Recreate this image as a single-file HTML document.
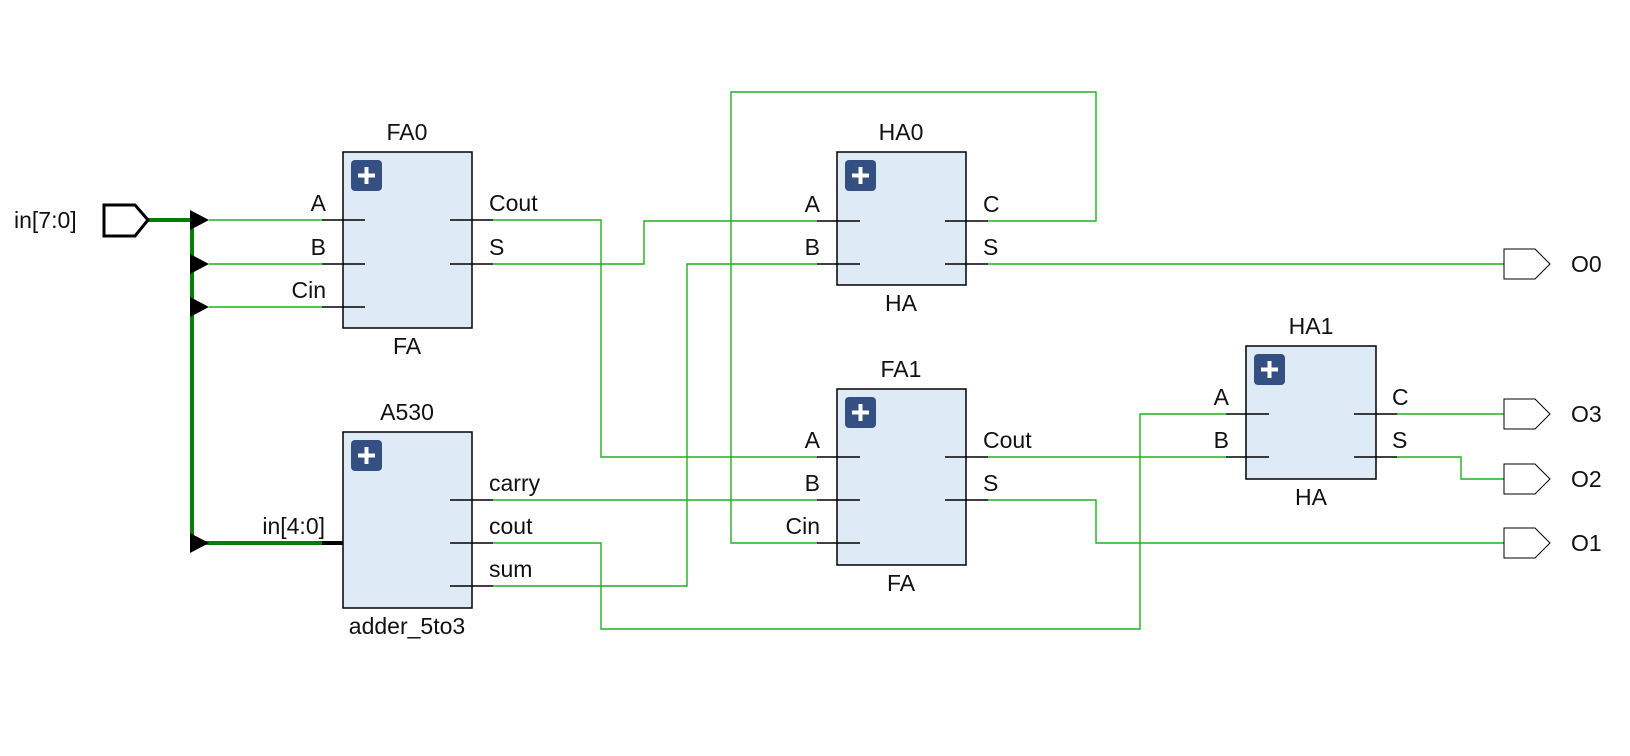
<!DOCTYPE html>
<html><head><meta charset="utf-8"><style>
html,body{margin:0;padding:0;background:#fff;}
svg{display:block;}
text{font-family:"Liberation Sans","DejaVu Sans",sans-serif;font-size:23px;fill:#111;}
.w{stroke:#1fb01f;stroke-width:1.4;fill:none;}
.s{stroke:#000;stroke-width:1.5;}
.box{fill:#dfeaf7;stroke:#000;stroke-width:1.5;}
.pl{fill:#344f82;}
</style></head><body>
<svg width="1630" height="756" viewBox="0 0 1630 756" xmlns="http://www.w3.org/2000/svg">
<g class="w">
<polyline points="209,220 322,220"/>
<polyline points="209,264 322,264"/>
<polyline points="209,307 322,307"/>
<polyline points="493,220 601,220 601,457 817,457"/>
<polyline points="493,264 644,264 644,221 817,221"/>
<polyline points="493,586 687,586 687,264 817,264"/>
<polyline points="493,500 817,500"/>
<polyline points="493,543 601,543 601,629 1140,629 1140,414 1226,414"/>
<polyline points="988,221 1096,221 1096,92 731,92 731,543 817,543"/>
<polyline points="988,264 1504,264"/>
<polyline points="988,457 1226,457"/>
<polyline points="988,500 1096,500 1096,543 1504,543"/>
<polyline points="1397,414 1504,414"/>
<polyline points="1397,457 1461,457 1461,479 1504,479"/>
</g>
<polyline points="148,220 192,220 192,543 322,543" stroke="#008000" stroke-width="4" fill="none"/>
<line x1="322" y1="543" x2="364" y2="543" stroke="#000" stroke-width="4"/>
<g fill="#000">
<polygon points="190,210 209,220 190,230"/>
<polygon points="190,254 209,264 190,274"/>
<polygon points="190,297 209,307 190,317"/>
<polygon points="190,533 209,543 190,553"/>
</g>
<polygon points="104,205 135,205 148,220 135,236 104,236" fill="#fff" stroke="#000" stroke-width="3"/>
<text x="14" y="228">in[7:0]</text>
<text x="325" y="534" text-anchor="end">in[4:0]</text>

<rect class="box" x="343" y="152" width="129" height="176"/>
<rect class="pl" x="351" y="160" width="31" height="31" rx="4"/>
<path d="M366.5,167v17M358,175.5h17" stroke="#fff" stroke-width="4"/>
<text x="407" y="140" text-anchor="middle">FA0</text>
<text x="407" y="354" text-anchor="middle">FA</text>
<g class="s"><line x1="322" y1="220" x2="365" y2="220"/><line x1="322" y1="264" x2="365" y2="264"/><line x1="322" y1="307" x2="365" y2="307"/><line x1="450" y1="220" x2="493" y2="220"/><line x1="450" y1="264" x2="493" y2="264"/></g>
<text x="326" y="211" text-anchor="end">A</text>
<text x="326" y="255" text-anchor="end">B</text>
<text x="326" y="298" text-anchor="end">Cin</text>
<text x="489" y="211">Cout</text>
<text x="489" y="255">S</text>

<rect class="box" x="343" y="432" width="129" height="176"/>
<rect class="pl" x="351" y="440" width="31" height="31" rx="4"/>
<path d="M366.5,447v17M358,455.5h17" stroke="#fff" stroke-width="4"/>
<text x="407" y="420" text-anchor="middle">A530</text>
<text x="407" y="634" text-anchor="middle">adder_5to3</text>
<g class="s"><line x1="450" y1="500" x2="493" y2="500"/><line x1="450" y1="543" x2="493" y2="543"/><line x1="450" y1="586" x2="493" y2="586"/></g>
<text x="489" y="491">carry</text>
<text x="489" y="534">cout</text>
<text x="489" y="577">sum</text>

<rect class="box" x="837" y="152" width="129" height="133"/>
<rect class="pl" x="845" y="160" width="31" height="31" rx="4"/>
<path d="M860.5,167v17M852,175.5h17" stroke="#fff" stroke-width="4"/>
<text x="901" y="140" text-anchor="middle">HA0</text>
<text x="901" y="311" text-anchor="middle">HA</text>
<g class="s"><line x1="817" y1="221" x2="860" y2="221"/><line x1="817" y1="264" x2="860" y2="264"/><line x1="945" y1="221" x2="988" y2="221"/><line x1="945" y1="264" x2="988" y2="264"/></g>
<text x="820" y="212" text-anchor="end">A</text>
<text x="820" y="255" text-anchor="end">B</text>
<text x="983" y="212">C</text>
<text x="983" y="255">S</text>

<rect class="box" x="837" y="389" width="129" height="176"/>
<rect class="pl" x="845" y="397" width="31" height="31" rx="4"/>
<path d="M860.5,404v17M852,412.5h17" stroke="#fff" stroke-width="4"/>
<text x="901" y="377" text-anchor="middle">FA1</text>
<text x="901" y="591" text-anchor="middle">FA</text>
<g class="s"><line x1="817" y1="457" x2="860" y2="457"/><line x1="817" y1="500" x2="860" y2="500"/><line x1="817" y1="543" x2="860" y2="543"/><line x1="945" y1="457" x2="988" y2="457"/><line x1="945" y1="500" x2="988" y2="500"/></g>
<text x="820" y="448" text-anchor="end">A</text>
<text x="820" y="491" text-anchor="end">B</text>
<text x="820" y="534" text-anchor="end">Cin</text>
<text x="983" y="448">Cout</text>
<text x="983" y="491">S</text>

<rect class="box" x="1246" y="346" width="130" height="133"/>
<rect class="pl" x="1254" y="354" width="31" height="31" rx="4"/>
<path d="M1269.5,361v17M1261,369.5h17" stroke="#fff" stroke-width="4"/>
<text x="1311" y="334" text-anchor="middle">HA1</text>
<text x="1311" y="505" text-anchor="middle">HA</text>
<g class="s"><line x1="1226" y1="414" x2="1269" y2="414"/><line x1="1226" y1="457" x2="1269" y2="457"/><line x1="1354" y1="414" x2="1397" y2="414"/><line x1="1354" y1="457" x2="1397" y2="457"/></g>
<text x="1229" y="405" text-anchor="end">A</text>
<text x="1229" y="448" text-anchor="end">B</text>
<text x="1392" y="405">C</text>
<text x="1392" y="448">S</text>

<g fill="#fff" stroke="#000" stroke-width="1">
<polygon points="1504,249 1535,249 1550,264 1535,279 1504,279"/>
<polygon points="1504,399 1535,399 1550,414 1535,429 1504,429"/>
<polygon points="1504,464 1535,464 1550,479 1535,494 1504,494"/>
<polygon points="1504,528 1535,528 1550,543 1535,558 1504,558"/>
</g>
<text x="1571" y="272">O0</text>
<text x="1571" y="422">O3</text>
<text x="1571" y="487">O2</text>
<text x="1571" y="551">O1</text>
</svg>
</body></html>
